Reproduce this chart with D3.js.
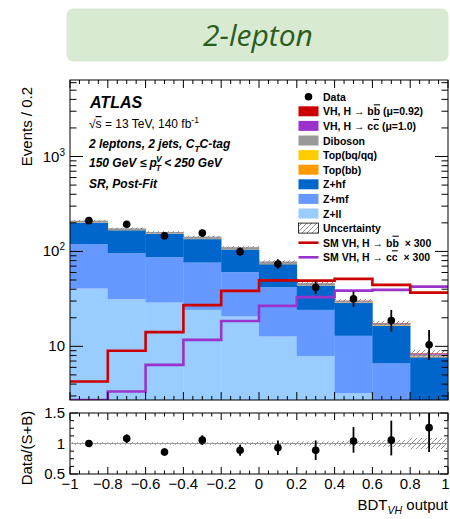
<!DOCTYPE html>
<html><head><meta charset="utf-8">
<script src="https://cdn.jsdelivr.net/npm/d3@7"></script>
<style>
body{margin:0;background:#fff}
svg{display:block}
text{font-family:"Liberation Sans",Arial,Helvetica,sans-serif;fill:#000}
.ov{text-decoration:overline}
</style>
</head><body>
<svg id="c" width="450" height="519"></svg>
<script>
// ---------- data ----------
const binLow = [-1.0,-0.8,-0.6,-0.4,-0.2,0.0,0.2,0.4,0.6,0.8];
const binWidth = 0.2;
const zll     = [40.6,31.4,28.9,24.2,20.6,12.7,7.9,3.2,1.5,0.8];
const zmf     = [78.4,64.3,58.0,52.0,39.8,29.3,16.3,9.7,5.1,1.3];
const zhf     = [81.0,71.5,66.3,58.6,44.4,31.3,19.5,15.7,9.9,5.57];
const topbb   = [0.6,0.5,0.5,0.4,0.4,0.3,0.2,0.2,0.15,0.1];
const topbq   = [0.4,0.3,0.3,0.3,0.2,0.2,0.1,0.1,0.1,0.05];
const diboson = [10,7,6,7.5,5.3,4.3,2.1,1.1,0.6,0.35];
const vhcc    = [0.01,0.01,0.02,0.04,0.06,0.09,0.11,0.13,0.13,0.14];
const vhbb    = [0.01,0.03,0.04,0.08,0.12,0.15,0.15,0.16,0.14,0.11];
const uncRel  = [0.02,0.02,0.02,0.02,0.025,0.03,0.035,0.04,0.055,0.09];
const dataVals  = [211,193,146,156,99.5,73.8,42,31.6,18.7,10.4];
const dataErrHi = [15,14.5,12.5,13,10.5,9.1,7,6.1,5.5,4.5];
const dataErrLo = [14.5,13.9,12,12.5,10,8.6,6.5,5.6,4.4,3.2];
const smVHbb300 = [4.26,9.0,14.1,27.2,38.4,49.5,49.3,51.4,44.4,36.8];
const smVHcc300 = [2.0,3.34,6.38,11.7,18.5,26.7,33.0,38.6,39.3,42.6];
const ratioVals  = [1.0,1.08,0.86,1.055,0.89,0.93,0.89,1.04,1.055,1.26];
const ratioErrHi = [0.05,0.07,0.06,0.08,0.09,0.12,0.16,0.23,0.32,0.30];
const ratioErrLo = [0.05,0.07,0.06,0.08,0.09,0.12,0.16,0.19,0.25,0.40];
const xTicks = [-1,-0.8,-0.6,-0.4,-0.2,0,0.2,0.4,0.6,0.8,1];
const xTickLabels = ["\u22121","\u22120.8","\u22120.6","\u22120.4","\u22120.2","0","0.2","0.4","0.6","0.8","1"];
const yTicks = [10,100,1000];
const ratioTicks = [0.5,1,1.5];
const ratioTickLabels = ["0.5","1","1.5"];

const layers = [
  {key:"zll", name:"Z+ll", color:"#99ccff", vals:zll},
  {key:"zmf", name:"Z+mf", color:"#6699ff", vals:zmf},
  {key:"zhf", name:"Z+hf", color:"#0066cc", vals:zhf},
  {key:"topbb", name:"Top(bb)", color:"#ff9900", vals:topbb},
  {key:"topbq", name:"Top(bq/qq)", color:"#ffcc00", vals:topbq},
  {key:"diboson", name:"Diboson", color:"#999999", vals:diboson},
  {key:"vhcc", name:"VH, H\u2192cc", color:"#9933cc", vals:vhcc},
  {key:"vhbb", name:"VH, H\u2192bb", color:"#cc0000", vals:vhbb}
];

// ---------- layout ----------
const svg = d3.select("#c");
const L = 70, R = 448, T = 80, B = 400, RT = 413, RB = 474;

// banner
svg.append("rect").attr("x",66.5).attr("y",8.5).attr("width",382).attr("height",53).attr("rx",7)
  .attr("fill","#d9ead3");
svg.append("text").attr("x",258).attr("y",46).attr("text-anchor","middle")
  .style("font-family","'Open Sans','Noto Sans',sans-serif").style("font-style","italic")
  .style("font-size","30px").style("fill","#2a5d1c").text("2-lepton");

const x = d3.scaleLinear().domain([-1,1]).range([L,R]);
const y = d3.scaleLog().domain([2.72,6400]).range([B,T]).clamp(true);
const yr = d3.scaleLinear().domain([0.5,1.5]).range([RB,RT]).clamp(true);

// hatch pattern
const defs = svg.append("defs");
const pat = defs.append("pattern").attr("id","hatch").attr("patternUnits","userSpaceOnUse")
  .attr("width",5).attr("height",5);
pat.append("path").attr("d","M-1,6 L6,-1 M-1,1 L1,-1 M4,6 L6,4").attr("stroke","#777").attr("stroke-width",0.8);
defs.append("clipPath").attr("id","clipMain").append("rect").attr("x",L).attr("y",T).attr("width",R-L).attr("height",B-T);
defs.append("clipPath").attr("id","clipRatio").append("rect").attr("x",L).attr("y",RT).attr("width",R-L).attr("height",RB-RT);

// stack
const rows = binLow.map((b,i)=>{const o={b}; layers.forEach(l=>o[l.key]=l.vals[i]); return o;});
const stacked = d3.stack().keys(layers.map(l=>l.key))(rows);
const gMain = svg.append("g").attr("clip-path","url(#clipMain)");
stacked.forEach((s,li)=>{
  gMain.append("g").selectAll("rect").data(s).join("rect")
    .attr("x",d=>x(d.data.b)).attr("width",x(binWidth)-x(0)+0.3)
    .attr("y",d=>y(Math.max(d[1],1e-3)))
    .attr("height",d=>Math.max(0,y(Math.max(d[0],1e-3))-y(Math.max(d[1],1e-3))))
    .attr("fill",layers[li].color);
});
const totals = binLow.map((b,i)=>d3.sum(layers,l=>l.vals[i]));
// uncertainty band
gMain.append("g").selectAll("rect").data(binLow).join("rect")
  .attr("x",b=>x(b)).attr("width",x(binWidth)-x(0))
  .attr("y",(b,i)=>y(totals[i]*(1+uncRel[i])))
  .attr("height",(b,i)=>y(totals[i]*(1-uncRel[i]))-y(totals[i]*(1+uncRel[i])))
  .attr("fill","url(#hatch)");

// overlay lines
function stepLine(vals){
  const pts=[];
  binLow.forEach((b,i)=>{pts.push([x(b),y(vals[i])]);pts.push([x(b+binWidth),y(vals[i])]);});
  return d3.line()(pts);
}
gMain.append("path").attr("d",stepLine(smVHcc300)).attr("fill","none").attr("stroke","#9933cc").attr("stroke-width",2.6);
gMain.append("path").attr("d",stepLine(smVHbb300)).attr("fill","none").attr("stroke","#cc0000").attr("stroke-width",2.6);

// data points
const gData = svg.append("g").attr("clip-path","url(#clipMain)");
binLow.forEach((b,i)=>{
  const cx = x(b+binWidth/2);
  gData.append("line").attr("x1",cx).attr("x2",cx).attr("y1",y(dataVals[i]+dataErrHi[i])).attr("y2",y(dataVals[i]-dataErrLo[i]))
    .attr("stroke","#000").attr("stroke-width",1.8);
  gData.append("circle").attr("cx",cx).attr("cy",y(dataVals[i])).attr("r",3.8).attr("fill","#000");
});

// ---------- axes main ----------
const gAx = svg.append("g").attr("stroke","#000").attr("fill","none");
gAx.append("rect").attr("x",L).attr("y",T).attr("width",R-L).attr("height",B-T).attr("stroke-width",1);
const xMinor = d3.range(-1,1.0001,0.05);
function xTicksDraw(y0,y1,majLen,minLen){
  xMinor.forEach(v=>{
    const isMaj = Math.abs(Math.round(v*5)-v*5)<1e-6;
    const len = isMaj?majLen:minLen;
    const px = x(v);
    gAx.append("line").attr("x1",px).attr("x2",px).attr("y1",y1).attr("y2",y1-len);
    gAx.append("line").attr("x1",px).attr("x2",px).attr("y1",y0).attr("y2",y0+len);
  });
}
xTicksDraw(T,B,8,4);
// y log ticks
const yMinor=[];
[1,10,100,1000].forEach(d=>{for(let k=1;k<10;k++){const v=d*k; if(v>=y.domain()[0]&&v<=y.domain()[1]) yMinor.push(v);}});
yMinor.forEach(v=>{
  const isMaj = yTicks.includes(v);
  const len = isMaj?13:6.5;
  gAx.append("line").attr("x1",L).attr("x2",L+len).attr("y1",y(v)).attr("y2",y(v));
  gAx.append("line").attr("x1",R).attr("x2",R-len).attr("y1",y(v)).attr("y2",y(v));
});
// y labels
const lab = svg.append("g").style("font-size","15px");
yTicks.forEach(v=>{
  const t = lab.append("text").attr("x",65).attr("y",y(v)+5).attr("text-anchor","end");
  if(v===10){t.text("10");}
  else { t.append("tspan").text("10"); t.append("tspan").attr("dy",-6).style("font-size","10px").text(String(Math.round(Math.log10(v)))); }
});
svg.append("text").attr("transform","translate(32,87) rotate(-90)").attr("text-anchor","end").style("font-size","15px").text("Events / 0.2");

// ---------- ratio ----------
const gR = svg.append("g").attr("clip-path","url(#clipRatio)");
gR.append("g").selectAll("rect").data(binLow).join("rect")
  .attr("x",b=>x(b)).attr("width",x(binWidth)-x(0))
  .attr("y",(b,i)=>yr(1+uncRel[i])).attr("height",(b,i)=>yr(1-uncRel[i])-yr(1+uncRel[i]))
  .attr("fill","url(#hatch)");
gR.append("line").attr("x1",L).attr("x2",R).attr("y1",yr(1)).attr("y2",yr(1)).attr("stroke","#999").attr("stroke-width",1);
binLow.forEach((b,i)=>{
  const cx = x(b+binWidth/2);
  gR.append("line").attr("x1",cx).attr("x2",cx).attr("y1",yr(ratioVals[i]+ratioErrHi[i])).attr("y2",yr(ratioVals[i]-ratioErrLo[i]))
    .attr("stroke","#000").attr("stroke-width",1.8);
  gR.append("circle").attr("cx",cx).attr("cy",yr(ratioVals[i])).attr("r",3.8).attr("fill","#000");
});
gAx.append("rect").attr("x",L).attr("y",RT).attr("width",R-L).attr("height",RB-RT).attr("stroke-width",1);
xTicksDraw(RT,RB,7,3.5);
d3.range(0.5,1.5001,0.125).forEach(v=>{
  const isMaj = ratioTicks.some(t=>Math.abs(t-v)<1e-6);
  const len = isMaj?8:4;
  gAx.append("line").attr("x1",L).attr("x2",L+len).attr("y1",yr(v)).attr("y2",yr(v));
  gAx.append("line").attr("x1",R).attr("x2",R-len).attr("y1",yr(v)).attr("y2",yr(v));
});
ratioTicks.forEach((v,i)=>{
  lab.append("text").attr("x",65).attr("y",yr(v)+5).attr("text-anchor","end").text(ratioTickLabels[i]);
});
xTicks.forEach((v,i)=>{
  const last = i===xTicks.length-1;
  lab.append("text").attr("x",last?449.5:x(v)).attr("y",489).attr("text-anchor",last?"end":"middle").text(xTickLabels[i]);
});
svg.append("text").attr("transform","translate(32,448) rotate(-90)").attr("text-anchor","middle").style("font-size","15px").text("Data/(S+B)");
const xl = svg.append("text").attr("x",448).attr("y",510).attr("text-anchor","end").style("font-size","15px");
xl.append("tspan").text("BDT");
xl.append("tspan").attr("dy",4).style("font-size","10.5px").style("font-style","italic").text("VH");
xl.append("tspan").attr("dy",-4).text(" output");

// ---------- ATLAS text ----------
const tl = svg.append("g");
tl.append("text").attr("x",90).attr("y",108).style("font-size","16px").style("font-weight","bold").style("font-style","italic").text("ATLAS");
const t2 = tl.append("text").attr("x",89).attr("y",128).style("font-size","12px");
t2.append("tspan").text("\u221A");
t2.append("tspan").attr("class","ov").text("s");
t2.append("tspan").text(" = 13 TeV, 140 fb");
t2.append("tspan").attr("dy",-5).style("font-size","8.5px").text("-1");
const t3 = tl.append("text").attr("x",89).attr("y",148).style("font-size","12px").style("font-weight","bold").style("font-style","italic");
t3.append("tspan").text("2 leptons, 2 jets, C");
t3.append("tspan").attr("dy",4).style("font-size","8.5px").text("T");
t3.append("tspan").attr("dy",-4).text("C-tag");
const t4 = tl.append("text").attr("x",89).attr("y",167).style("font-size","12px").style("font-weight","bold").style("font-style","italic");
t4.append("tspan").text("150 GeV \u2264 p");
t4.append("tspan").attr("dy",-5).attr("dx",-1).style("font-size","8.5px").text("V");
t4.append("tspan").attr("dy",9).attr("dx",-6).style("font-size","8.5px").text("T");
t4.append("tspan").attr("dy",-4).text(" < 250 GeV");
tl.append("text").attr("x",89).attr("y",188).style("font-size","12px").style("font-weight","bold").style("font-style","italic").text("SR, Post-Fit");

// ---------- legend ----------
const legendItems = [
  {type:"data", label:[["Data"]]},
  {type:"box", color:"#cc0000", label:[["VH, H \u2192 b"],["b","ov"],[" (\u03bc=0.92)"]]},
  {type:"box", color:"#9933cc", label:[["VH, H \u2192 c"],["c","ov"],[" (\u03bc=1.0)"]]},
  {type:"box", color:"#999999", label:[["Diboson"]]},
  {type:"box", color:"#ffcc00", label:[["Top(bq/qq)"]]},
  {type:"box", color:"#ff9900", label:[["Top(bb)"]]},
  {type:"box", color:"#0066cc", label:[["Z+hf"]]},
  {type:"box", color:"#6699ff", label:[["Z+mf"]]},
  {type:"box", color:"#99ccff", label:[["Z+ll"]]},
  {type:"hatch", label:[["Uncertainty"]]},
  {type:"line", color:"#cc0000", label:[["SM VH, H \u2192 b"],["b","ov"],["  \u00d7 300"]]},
  {type:"line", color:"#9933cc", label:[["SM VH, H \u2192 c"],["c","ov"],["  \u00d7 300"]]}
];
const lg = svg.append("g");
legendItems.forEach((it,i)=>{
  const cy = 96.7 + i*14.6;
  if(it.type==="data"){
    lg.append("circle").attr("cx",308.5).attr("cy",cy).attr("r",3.8).attr("fill","#000");
  } else if(it.type==="box"){
    lg.append("rect").attr("x",298.5).attr("y",cy-5).attr("width",20).attr("height",10).attr("fill",it.color);
  } else if(it.type==="hatch"){
    lg.append("rect").attr("x",298.5).attr("y",cy-5).attr("width",20).attr("height",10).attr("fill","url(#hatch)").attr("stroke","#000").attr("stroke-width",0.8);
  } else {
    lg.append("line").attr("x1",298.5).attr("x2",318.5).attr("y1",cy).attr("y2",cy).attr("stroke",it.color).attr("stroke-width",2.6);
  }
  const t = lg.append("text").attr("x",323).attr("y",cy+4).style("font-size","10.5px").style("font-weight","bold").attr("xml:space","preserve");
  it.label.forEach(s=>{const ts=t.append("tspan").text(s[0]); if(s[1]) ts.attr("class",s[1]);});
});
</script>
</body></html>
